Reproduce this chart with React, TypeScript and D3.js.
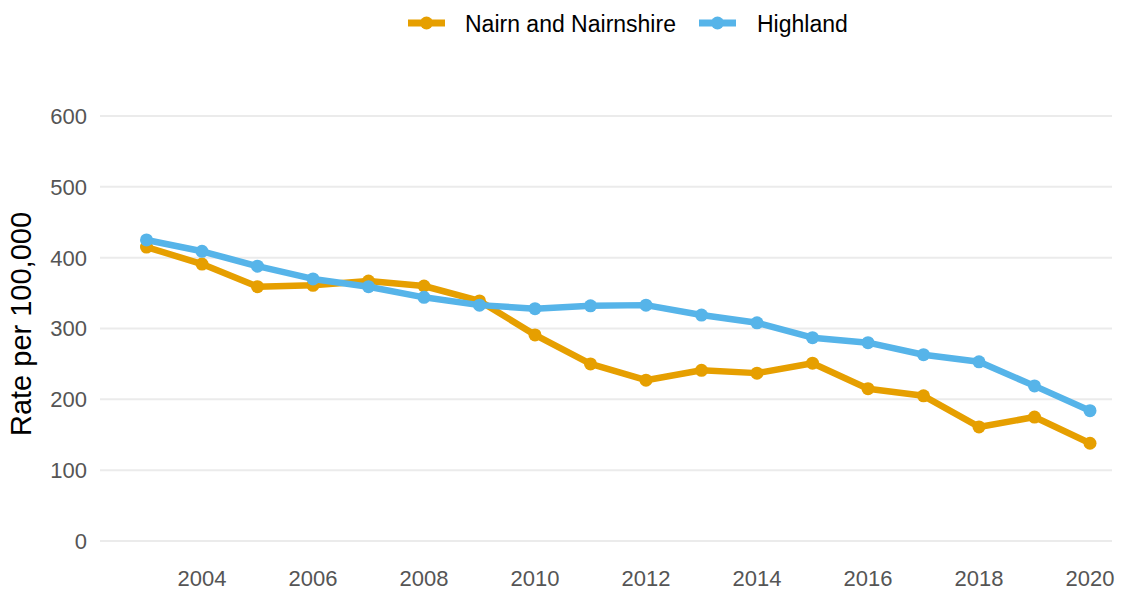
import React from 'react';
import * as d3 from 'd3';

const years = [2003, 2004, 2005, 2006, 2007, 2008, 2009, 2010, 2011, 2012, 2013, 2014, 2015, 2016, 2017, 2018, 2019, 2020];
const nairn = [415, 391, 359, 361, 367, 360, 339, 291, 250, 227, 241, 237, 251, 215, 205, 161, 175, 138];
const highland = [425, 409, 388, 370, 359, 344, 333, 328, 332, 333, 319, 308, 287, 280, 263, 253, 219, 184];
const yTicks = [0, 100, 200, 300, 400, 500, 600];
const xTicks = [2004, 2006, 2008, 2010, 2012, 2014, 2016, 2018, 2020];

const series = [
  { name: 'Nairn and Nairnshire', values: nairn, color: '#E69F00' },
  { name: 'Highland', values: highland, color: '#56B4E9' },
];

const W = 1122;
const H = 593;

export default function App() {
  // y=0 sits at 541, y=600 at 116 in the reference
  const x = d3.scaleLinear().domain([2004, 2020]).range([202, 1090]);
  const y = d3.scaleLinear().domain([0, 600]).range([541, 116]);

  const line = d3.line<number>()
    .x((_, i) => x(years[i]))
    .y(d => y(d));

  const font = '"Liberation Sans", Arial, sans-serif';

  return (
    <svg width={W} height={H} style={{ position: 'absolute', left: 0, top: 0, background: '#fff' }}>
      {yTicks.map(t => (
        <g key={t}>
          <line x1={100} x2={1112} y1={y(t)} y2={y(t)} stroke="#ebebeb" strokeWidth={2} />
          <text x={87} y={y(t)} dy="0.36em" textAnchor="end" fontFamily={font} fontSize={22} fill="#555">{t}</text>
        </g>
      ))}
      {xTicks.map(t => (
        <text key={t} x={x(t)} y={586} textAnchor="middle" fontFamily={font} fontSize={22} fill="#555">{t}</text>
      ))}
      <text transform={`translate(31,324) rotate(-90)`} textAnchor="middle" fontFamily={font} fontSize={29} fill="#000">Rate per 100,000</text>

      {series.map(s => (
        <g key={s.name}>
          <path d={line(s.values) || ''} fill="none" stroke={s.color} strokeWidth={6.5} strokeLinejoin="round" />
          {s.values.map((v, i) => (
            <circle key={i} cx={x(years[i])} cy={y(v)} r={6.5} fill={s.color} />
          ))}
        </g>
      ))}

      {/* legend */}
      <g>
        <line x1={408} x2={445} y1={23} y2={23} stroke={series[0].color} strokeWidth={7} />
        <circle cx={426.5} cy={23} r={6.5} fill={series[0].color} />
        <text x={465} y={24} dy="0.35em" fontFamily={font} fontSize={23} fill="#000">{series[0].name}</text>
        <line x1={699} x2={736} y1={23} y2={23} stroke={series[1].color} strokeWidth={7} />
        <circle cx={717.5} cy={23} r={6.5} fill={series[1].color} />
        <text x={757} y={24} dy="0.35em" fontFamily={font} fontSize={23} fill="#000">{series[1].name}</text>
      </g>
    </svg>
  );
}
